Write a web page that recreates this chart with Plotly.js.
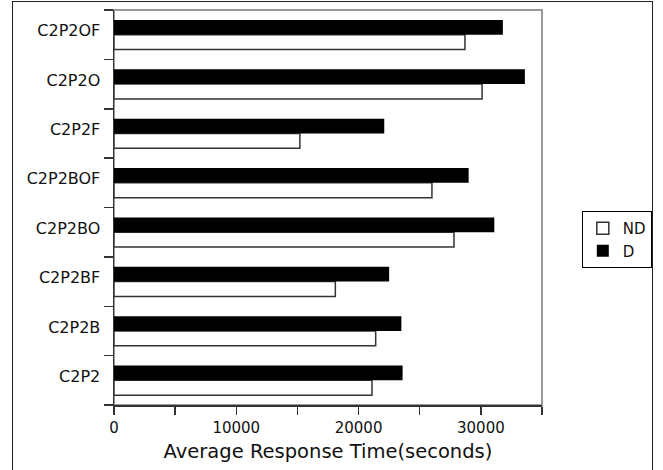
<!DOCTYPE html>
<html>
<head>
<meta charset="utf-8">
<script src="https://cdn.plot.ly/plotly-3.0.1.min.js"></script>
<style>
  html, body { margin: 0; padding: 0; background: #fff; }
  #wrap { position: relative; width: 663px; height: 470px; overflow: hidden; }
  #chart { position: absolute; left: 0; top: 0; width: 663px; height: 470px; }
  #frame { position: absolute; left: 12px; top: 1px; width: 641px; height: 480px;
           border: 1.5px solid #222; pointer-events: none; box-sizing: border-box; }
</style>
</head>
<body>
<div id="wrap">
  <div id="chart"></div>
  <div id="frame"></div>
</div>
<script>
const categories = ["C2P2", "C2P2B", "C2P2BF", "C2P2BO", "C2P2BOF", "C2P2F", "C2P2O", "C2P2OF"];
const ndValues = [21100, 21400, 18100, 27800, 26000, 15200, 30100, 28700];
const dValues  = [23600, 23500, 22500, 31100, 29000, 22100, 33600, 31800];
const xTickVals = [0, 5000, 10000, 15000, 20000, 25000, 30000, 35000];
const xTickText = ["0", "", "10000", "", "20000", "", "30000", ""];

const font = "DejaVu Sans";

const traces = [
  {
    type: "bar", orientation: "h", name: "ND",
    y: categories, x: ndValues,
    marker: { color: "#ffffff", line: { color: "#333333", width: 1.5 } }
  },
  {
    type: "bar", orientation: "h", name: "D",
    y: categories, x: dValues,
    marker: { color: "#000000", line: { color: "#000000", width: 0 } }
  }
];

const layout = {
  width: 663, height: 470,
  margin: { l: 114, r: 121, t: 10, b: 65, pad: 0 },
  paper_bgcolor: "#ffffff", plot_bgcolor: "#ffffff",
  font: { family: font, color: "#111" },
  barmode: "group", bargap: 0.4, bargroupgap: 0,
  showlegend: true,
  legend: {
    x: 1.093, xanchor: "left", y: 0.491, yanchor: "top",
    bgcolor: "#ffffff", bordercolor: "#000000", borderwidth: 1,
    font: { family: font, size: 15, color: "#111" },
    traceorder: "normal", tracegroupgap: 0
  },
  xaxis: {
    range: [0, 35000], tickvals: xTickVals, ticktext: xTickText,
    ticks: "outside", ticklen: 8, tickwidth: 1.5, tickcolor: "#333",
    showline: true, linecolor: "#333", linewidth: 1.5,
    showgrid: false, zeroline: false,
    tickfont: { family: font, size: 15, color: "#111" },
    title: { text: "Average Response Time(seconds)", font: { family: font, size: 19.5, color: "#111" }, standoff: 9 }
  },
  yaxis: {
    type: "category", categoryorder: "array", categoryarray: categories,
    ticks: "outside", ticklen: 9, tickwidth: 1.5, tickcolor: "#333", tickson: "boundaries",
    showline: true, linecolor: "#333", linewidth: 1.5,
    showgrid: false, zeroline: false,
    ticklabelstandoff: 9, ticklabelshift: -4,
    tickfont: { family: font, size: 16, color: "#111" }
  },
  shapes: [
    { type: "rect", xref: "paper", yref: "paper", x0: 0, x1: 1, y0: 0, y1: 1,
      line: { color: "#999", width: 2 }, layer: "below" }
  ]
};

Plotly.newPlot("chart", traces, layout, { displayModeBar: false, staticPlot: true });
</script>
</body>
</html>
